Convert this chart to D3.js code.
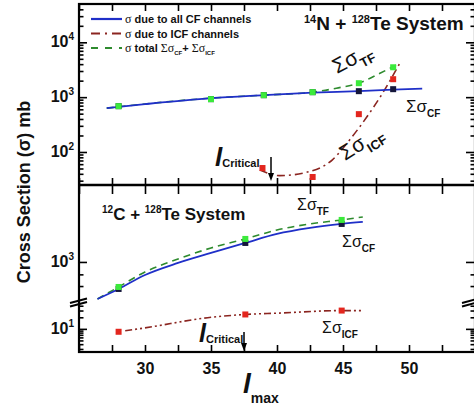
<!DOCTYPE html>
<html>
<head>
<meta charset="utf-8">
<script src="https://cdn.jsdelivr.net/npm/d3@7"></script>
<style>
  body { margin: 0; background: #fff; }
  svg { display: block; }
  text { font-family: "Liberation Sans", Arial, sans-serif; }
</style>
</head>
<body>
<div class="chart"></div>
<script>
// values (l_max vs cross section in mb)

// 14N + 128Te (top panel)
var lTop = [28, 35, 39, 42.7, 46.2, 48.8];
var cfTop = [685, 920, 1087, 1233, 1286, 1398];
var tfTop = [685, 920, 1087, 1233, 1797, 3508];
var lIcfTop = [38.9, 42.7, 46.2, 48.8];
var icfTop = [51, 35, 490, 2125];

var cfFitTopL = [27.1, 30, 35, 39, 42.7, 46.2, 48.8, 51];
var cfFitTop = [631, 746, 959, 1087, 1207, 1286, 1369, 1427];
var tfFitTopL = [27.1, 35, 39, 42.7, 44.5, 46.2, 47.8, 49.3];
var tfFitTop = [631, 959, 1087, 1233, 1458, 1797, 2731, 4150];
var icfFitTopL = [38.7, 40.2, 42.3, 44.2, 45.5, 46.8, 48, 49.3];
var icfFitTop = [47, 37, 43, 72, 166, 433, 1183, 4150];

// 12C + 128Te (bottom panel)
var lBot = [28, 37.6, 44.9];
var cfBot = [460, 1728, 2985];
var tfBot = [487, 1939, 3350];
var icfBot = [8.4, 23.7, 29.9];

var fitBotL = [26.4, 28, 30, 32.5, 35, 37.6, 40, 42.5, 44.9, 46.5];
var cfFitBot = [345, 460, 688, 972, 1296, 1728, 2239, 2661, 2985, 3162];
var tfFitBot = [345, 487, 750, 1090, 1496, 1939, 2512, 2985, 3350, 3652];
var icfFitBotL = [28.5, 30, 35, 37.6, 40, 44.9, 46.4];
var icfFitBot = [8.9, 10.6, 20, 23.7, 25.6, 29.9, 29.9];

var xTickLabels = [30, 35, 40, 45, 50];
var xTickAll = d3.range(25, 55.1, 2.5);

var blue = '#1f2fc8', green = '#2e8b2e', darkRed = '#8b2520';
var greenPt = '#3bea3b', redPt = '#e3261e', blackPt = '#14163a';

var W = 474, H = 409;
var svg = d3.select('.chart').append('svg')
  .attr('width', W)
  .attr('height', H);

var x = d3.scaleLinear().domain([25, 55]).range([79, 475]);
var yTop = d3.scaleLog().domain([25, 50000]).range([185, 4]);
var yHi = d3.scaleLog().domain([316, 9150]).range([302, 185]);
var yLo = d3.scaleLog().domain([2.5, 50]).range([352, 302]);

function zip(a, b) { return a.map(function(d, i) { return [d, b[i]]; }); }

// ---- axes / ticks ----
function vTicks(scale, major, minor) {
  var gl = svg.append('g').attr('transform', 'translate(79,0)');
  gl.call(d3.axisRight(scale).tickValues(major).tickSize(8).tickFormat(''));
  gl.select('.domain').remove();
  var gl2 = svg.append('g').attr('transform', 'translate(79,0)');
  gl2.call(d3.axisRight(scale).tickValues(minor).tickSize(4.5).tickFormat(''));
  gl2.select('.domain').remove();
  var gr = svg.append('g').attr('transform', 'translate(475,0)');
  gr.call(d3.axisLeft(scale).tickValues(major).tickSize(9).tickFormat(''));
  gr.select('.domain').remove();
  var gr2 = svg.append('g').attr('transform', 'translate(475,0)');
  gr2.call(d3.axisLeft(scale).tickValues(minor).tickSize(4.5).tickFormat(''));
  gr2.select('.domain').remove();
}

function minorsIn(scale) {
  var dom = scale.domain(), out = [];
  for (var e = -1; e < 6; e++) {
    for (var m = 2; m < 10; m++) {
      var v = m * Math.pow(10, e);
      if (v > dom[0] * 1.02 && v < dom[1] * 0.98) out.push(v);
    }
  }
  return out;
}

vTicks(yTop, [100, 1000, 10000], minorsIn(yTop));
vTicks(yHi, [1000], [500, 700]);
vTicks(yLo, [10], [3, 4, 5, 6, 7, 8, 9, 20, 30, 40]);

// x ticks on top border, divider (both sides) and bottom border
svg.append('g').attr('transform', 'translate(0,4)')
  .call(d3.axisBottom(x).tickValues(xTickAll).tickSize(7).tickFormat(''))
  .select('.domain').remove();
svg.append('g').attr('transform', 'translate(0,185)')
  .call(d3.axisTop(x).tickValues(xTickAll).tickSize(7).tickFormat(''))
  .select('.domain').remove();
svg.append('g').attr('transform', 'translate(0,185)')
  .call(d3.axisBottom(x).tickValues(xTickAll).tickSize(9).tickFormat(''))
  .select('.domain').remove();
var xb = svg.append('g').attr('transform', 'translate(0,352)')
  .call(d3.axisBottom(x).tickValues(xTickAll).tickSizeInner(-7).tickSizeOuter(0).tickPadding(11)
    .tickFormat(function(d) { return xTickLabels.indexOf(d) >= 0 ? d : ''; }));
xb.select('.domain').remove();
xb.selectAll('text').attr('font-size', 16).attr('font-weight', 'bold')
  .attr('font-family', '"Liberation Sans", Arial, sans-serif').attr('fill', '#111');

svg.selectAll('.tick line').attr('stroke', '#000').attr('stroke-width', 1.6);

// frame
svg.append('rect').attr('x', 79).attr('y', 4).attr('width', 396).attr('height', 348)
  .attr('fill', 'none').attr('stroke', '#000').attr('stroke-width', 2.2);
svg.append('line').attr('x1', 79).attr('x2', 475).attr('y1', 185).attr('y2', 185)
  .attr('stroke', '#000').attr('stroke-width', 2.4);

// axis break marks
[[70, 87], [462, 479]].forEach(function(p) {
  [0, 3.5].forEach(function(o) {
    svg.append('line')
      .attr('x1', p[0]).attr('y1', 303 + o).attr('x2', p[1]).attr('y2', 298.5 + o)
      .attr('stroke', '#000').attr('stroke-width', 2);
  });
});

// y tick labels with powers of ten
function powLabel(y, exp) {
  var t = svg.append('text').attr('x', 74).attr('y', y + 5)
    .attr('text-anchor', 'end').attr('font-weight', 'bold').attr('fill', '#111');
  t.append('tspan').attr('font-size', 16).text('10');
  t.append('tspan').attr('font-size', 10).attr('dy', -7).text(exp);
}
powLabel(yTop(10000), 4);
powLabel(yTop(1000), 3);
powLabel(yTop(100), 2);
powLabel(yHi(1000), 3);
powLabel(yLo(10), 1);

// ---- curves ----
var lineTop = d3.line().x(function(d) { return x(d[0]); }).y(function(d) { return yTop(d[1]); })
  .curve(d3.curveMonotoneX);
var lineHi = d3.line().x(function(d) { return x(d[0]); }).y(function(d) { return yHi(d[1]); })
  .curve(d3.curveMonotoneX);
var lineLo = d3.line().x(function(d) { return x(d[0]); }).y(function(d) { return yLo(d[1]); })
  .curve(d3.curveMonotoneX);

function path(gen, data, color, width, dash) {
  svg.append('path').attr('d', gen(data)).attr('fill', 'none')
    .attr('stroke', color).attr('stroke-width', width)
    .attr('stroke-dasharray', dash || null);
}

path(lineTop, zip(icfFitTopL, icfFitTop), darkRed, 1.6, '8,4,2,4');
path(lineTop, zip(tfFitTopL, tfFitTop), green, 1.6, '7,5');
path(lineTop, zip(cfFitTopL, cfFitTop), blue, 1.8);

path(lineLo, zip(icfFitBotL, icfFitBot), darkRed, 1.6, '7,3,2,3,2,3');
path(lineHi, zip(fitBotL, tfFitBot), green, 1.6, '7,5');
path(lineHi, zip(fitBotL, cfFitBot), blue, 1.8);

// ---- markers ----
function squares(pts, scale, color) {
  svg.append('g').selectAll('rect').data(pts).enter().append('rect')
    .attr('x', function(d) { return x(d[0]) - 3; })
    .attr('y', function(d) { return scale(d[1]) - 3; })
    .attr('width', 6).attr('height', 6)
    .attr('fill', color);
}
squares(zip(lTop, cfTop), yTop, blackPt);
squares(zip(lTop, tfTop), yTop, greenPt);
squares(zip(lIcfTop, icfTop), yTop, redPt);
squares(zip(lBot, cfBot), yHi, blackPt);
squares(zip(lBot, tfBot), yHi, greenPt);
squares(zip(lBot, icfBot), yLo, redPt);

// ---- text helpers ----
function rich(x0, y0, parts, rot) {
  var t = svg.append('text').attr('x', x0).attr('y', y0).attr('fill', '#111');
  if (rot) t.attr('transform', 'rotate(' + rot + ',' + x0 + ',' + y0 + ')');
  var cur = 0;
  parts.forEach(function(p) {
    var off = p.off || 0;
    t.append('tspan').attr('dy', off - cur)
      .attr('font-size', p.size)
      .attr('font-weight', p.bold ? 'bold' : 'normal')
      .attr('font-style', p.italic ? 'italic' : 'normal')
      .attr('font-family', p.serif ? '"Liberation Serif", "DejaVu Serif", serif' : null)
      .text(p.t);
    cur = off;
  });
  return t;
}

function sigma(x0, y0, sub, size, rot) {
  rich(x0, y0, [
    { t: '\u03A3\u03C3', size: size },
    { t: sub, size: Math.round(size * 0.6), bold: true, off: size * 0.32 }
  ], rot);
}

// titles
rich(304, 30, [
  { t: '14', size: 11, bold: true, off: -7 },
  { t: 'N + ', size: 19, bold: true },
  { t: '128', size: 11, bold: true, off: -7 },
  { t: 'Te System', size: 19, bold: true }
]);
rich(102, 220, [
  { t: '12', size: 10, bold: true, off: -7 },
  { t: 'C + ', size: 17, bold: true },
  { t: '128', size: 10, bold: true, off: -7 },
  { t: 'Te System', size: 17, bold: true }
]);

// legend
var legY = [19, 33.5, 48];
svg.append('line').attr('x1', 91).attr('x2', 122).attr('y1', legY[0]).attr('y2', legY[0])
  .attr('stroke', blue).attr('stroke-width', 2.2);
svg.append('line').attr('x1', 91).attr('x2', 122).attr('y1', legY[1]).attr('y2', legY[1])
  .attr('stroke', darkRed).attr('stroke-width', 2).attr('stroke-dasharray', '9,5,2,5');
svg.append('line').attr('x1', 91).attr('x2', 122).attr('y1', legY[2]).attr('y2', legY[2])
  .attr('stroke', green).attr('stroke-width', 2).attr('stroke-dasharray', '7,7');
rich(125, legY[0] + 4, [
  { t: '\u03C3', size: 12, serif: true },
  { t: ' due to all CF channels', size: 11, bold: true }
]);
rich(125, legY[1] + 4, [
  { t: '\u03C3', size: 12, serif: true },
  { t: ' due to ICF channels', size: 11, bold: true }
]);
rich(125, legY[2] + 4, [
  { t: '\u03C3', size: 12, serif: true },
  { t: ' total ', size: 11, bold: true },
  { t: '\u03A3\u03C3', size: 12, serif: true },
  { t: 'CF', size: 6, bold: true, off: 3 },
  { t: '+ ', size: 11, bold: true },
  { t: '\u03A3\u03C3', size: 12, serif: true },
  { t: 'ICF', size: 6, bold: true, off: 3 }
]);

// series labels
sigma(337, 74, 'TF', 21, -28);
sigma(345, 161, 'ICF', 21, -32);
sigma(406, 112, 'CF', 17);
sigma(297, 210, 'TF', 16);
sigma(342, 247, 'CF', 16);
sigma(322, 333, 'ICF', 16);

// l_Critical markers
function lcrit(x0, y0, size) {
  rich(x0, y0, [
    { t: 'l', size: size, bold: true, italic: true },
    { t: 'Critical', size: 11, bold: true, off: 1 }
  ]);
}
lcrit(215, 166, 26);
lcrit(199, 342, 25);

function arrow(ax, y1, y2) {
  svg.append('line').attr('x1', ax).attr('x2', ax).attr('y1', y1).attr('y2', y2 - 6)
    .attr('stroke', '#000').attr('stroke-width', 1.5);
  svg.append('path')
    .attr('d', 'M' + (ax - 3) + ',' + (y2 - 8) + 'L' + (ax + 3) + ',' + (y2 - 8) + 'L' + ax + ',' + y2 + 'Z')
    .attr('fill', '#000');
}
arrow(271, 157, 181);
arrow(244, 332, 351);

// axis titles
svg.append('text')
  .attr('transform', 'translate(30,192) rotate(-90)')
  .attr('text-anchor', 'middle')
  .attr('font-size', 18).attr('font-weight', 'bold').attr('fill', '#111')
  .text('Cross Section (\u03C3) mb');

rich(243, 393, [
  { t: 'l', size: 28, bold: true, italic: true },
  { t: 'max', size: 14, bold: true, off: 10 }
]);
</script>
</body>
</html>
